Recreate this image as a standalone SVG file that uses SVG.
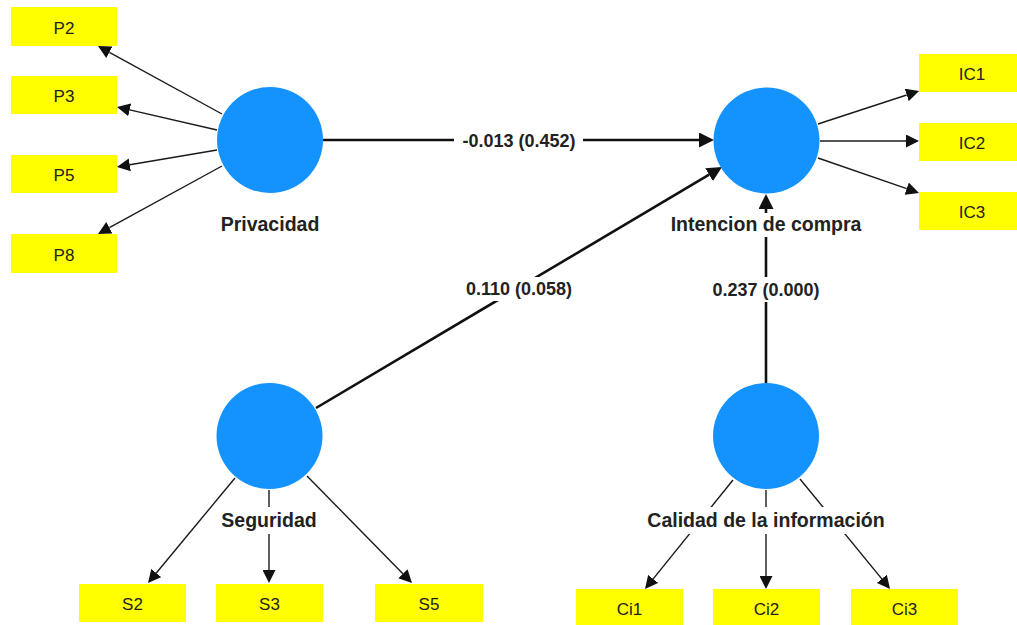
<svg xmlns="http://www.w3.org/2000/svg" width="1017" height="625" viewBox="0 0 1017 625">
  <style>
    .lv { fill: #1493ff; }
    .ind { fill: #ffff00; }
    .indt { font-family: "Liberation Sans", Arial, sans-serif; font-size: 17px; fill: #222; text-anchor: middle; }
    .lvt { font-family: "Liberation Sans", Arial, sans-serif; font-size: 19.5px; font-weight: bold; fill: #222; text-anchor: middle; }
    .pt { font-family: "Liberation Sans", Arial, sans-serif; font-size: 18px; font-weight: bold; fill: #222; text-anchor: middle; }
    .bg { fill: #ffffff; }
    .thin { stroke: #1a1a1a; stroke-width: 1.4; fill: none; marker-end: url(#ah); }
    .thick { stroke: #111; stroke-width: 2.6; fill: none; marker-end: url(#ahb); }
  </style>
  <defs>
    <marker id="ah" markerUnits="userSpaceOnUse" viewBox="0 0 13 13" markerWidth="13" markerHeight="13" refX="0" refY="6.5" orient="auto">
      <path d="M0,0 L13,6.5 L0,13 z" fill="#111"/>
    </marker>
    <marker id="ahb" markerUnits="userSpaceOnUse" viewBox="0 0 15 15" markerWidth="15" markerHeight="15" refX="0" refY="7.5" orient="auto">
      <path d="M0,0 L15,7.5 L0,15 z" fill="#111"/>
    </marker>
  </defs>

  <g id="connectors">
    <!-- outer loadings: Privacidad -->
    <line class="thin" x1="222" y1="114" x2="109.4" y2="52.3"/>
    <line class="thin" x1="217" y1="130" x2="129.7" y2="109.9"/>
    <line class="thin" x1="217" y1="150" x2="129.8" y2="164.8"/>
    <line class="thin" x1="222" y1="166" x2="109.4" y2="227.7"/>
    <!-- outer loadings: Intencion de compra -->
    <line class="thin" x1="818" y1="124" x2="906.7" y2="95"/>
    <line class="thin" x1="820" y1="141" x2="906" y2="141"/>
    <line class="thin" x1="818" y1="158" x2="906.7" y2="188.7"/>
    <!-- outer loadings: Seguridad -->
    <line class="thin" x1="235" y1="478" x2="156.3" y2="573"/>
    <line class="thin" x1="269" y1="490" x2="269" y2="570"/>
    <line class="thin" x1="307" y1="476" x2="402.9" y2="573.7"/>
    <!-- outer loadings: Calidad de la informacion -->
    <line class="thin" x1="733" y1="480" x2="653.2" y2="578.9"/>
    <line class="thin" x1="766" y1="490" x2="766" y2="576"/>
    <line class="thin" x1="800" y1="479" x2="881.8" y2="578.9"/>
    <!-- structural paths -->
    <line class="thick" x1="323" y1="140" x2="699" y2="140"/>
    <line class="thick" x1="316" y1="408" x2="709.1" y2="174.7"/>
    <line class="thick" x1="766" y1="383" x2="766" y2="209"/>
    <!-- path coefficients -->
    <rect class="bg" x="454" y="130" width="129" height="23"/>
    <text class="pt" x="519" y="147">-0.013 (0.452)</text>
    <rect class="bg" x="457" y="277" width="124" height="24"/>
    <text class="pt" x="519" y="295">0.110 (0.058)</text>
    <rect class="bg" x="704" y="277" width="124" height="25"/>
    <text class="pt" x="766" y="296">0.237 (0.000)</text>
  </g>

  <!-- latent variables -->
  <g id="privacidad">
    <circle class="lv" cx="270" cy="140" r="53"/>
    <text class="lvt" x="270" y="231">Privacidad</text>
  </g>
  <g id="intencion">
    <circle class="lv" cx="766.5" cy="140.5" r="53"/>
    <rect class="bg" x="668" y="213" width="196" height="24"/>
    <text class="lvt" x="766" y="231">Intencion de compra</text>
  </g>
  <g id="seguridad">
    <circle class="lv" cx="269.5" cy="436" r="53"/>
    <rect class="bg" x="219" y="507" width="101" height="27"/>
    <text class="lvt" x="269" y="527">Seguridad</text>
  </g>
  <g id="calidad">
    <circle class="lv" cx="766" cy="436" r="53"/>
    <rect class="bg" x="643" y="507" width="246" height="27"/>
    <text class="lvt" x="766" y="527">Calidad de la información</text>
  </g>

  <!-- indicators -->
  <g id="P2"><rect class="ind" x="11" y="7" width="106" height="39"/><text class="indt" x="64" y="33.5">P2</text></g>
  <g id="P3"><rect class="ind" x="11" y="76" width="106" height="38"/><text class="indt" x="64" y="102">P3</text></g>
  <g id="P5"><rect class="ind" x="11" y="155" width="106" height="38"/><text class="indt" x="64" y="181">P5</text></g>
  <g id="P8"><rect class="ind" x="11" y="234" width="106" height="39"/><text class="indt" x="64" y="260.5">P8</text></g>

  <g id="IC1"><rect class="ind" x="919" y="54" width="106" height="38"/><text class="indt" x="972" y="80">IC1</text></g>
  <g id="IC2"><rect class="ind" x="919" y="123" width="106" height="38"/><text class="indt" x="972" y="149">IC2</text></g>
  <g id="IC3"><rect class="ind" x="919" y="192" width="106" height="38"/><text class="indt" x="972" y="218">IC3</text></g>

  <g id="S2"><rect class="ind" x="79" y="584" width="107" height="38"/><text class="indt" x="132.5" y="610">S2</text></g>
  <g id="S3"><rect class="ind" x="216" y="584" width="107" height="38"/><text class="indt" x="269.5" y="610">S3</text></g>
  <g id="S5"><rect class="ind" x="375" y="584" width="108" height="38"/><text class="indt" x="429" y="610">S5</text></g>

  <g id="Ci1"><rect class="ind" x="576" y="589" width="107" height="38"/><text class="indt" x="629.5" y="615">Ci1</text></g>
  <g id="Ci2"><rect class="ind" x="713" y="589" width="107" height="38"/><text class="indt" x="766.5" y="615">Ci2</text></g>
  <g id="Ci3"><rect class="ind" x="851" y="589" width="107" height="38"/><text class="indt" x="904.5" y="615">Ci3</text></g>
</svg>
